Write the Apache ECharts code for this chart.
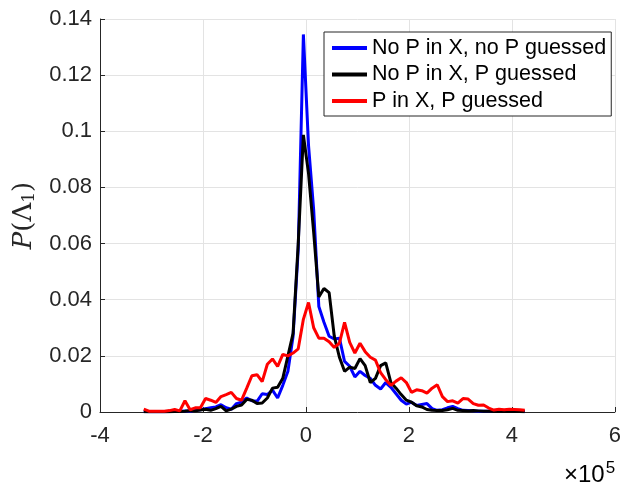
<!DOCTYPE html>
<html>
<head>
<meta charset="utf-8">
<script src="https://cdn.jsdelivr.net/npm/echarts@6/dist/echarts.min.js"></script>
<style>
  html, body { margin: 0; padding: 0; background: #fff; }
  #chart { width: 624px; height: 482px; }
</style>
</head>
<body>
<div id="chart"></div>
<script>
// bin centres (raw units, axis shows x / 1e5)
const xs = [
  -315000, -305000, -295000, -285000, -275000, -265000, -255000, -245000, -235000, -225000,
  -215000, -205000, -195000, -185000, -175000, -165000, -155000, -145000, -135000, -125000,
  -115000, -105000, -95000, -85000, -75000, -65000, -55000, -45000, -35000, -25000,
  -15000, -5000, 5000, 15000, 25000, 35000, 45000, 55000, 65000, 75000,
  85000, 95000, 105000, 115000, 125000, 135000, 145000, 155000, 165000, 175000,
  185000, 195000, 205000, 215000, 225000, 235000, 245000, 255000, 265000, 275000,
  285000, 295000, 305000, 315000, 325000, 335000, 345000, 355000, 365000, 375000,
  385000, 395000, 405000, 415000, 425000
];

const noPnoP = [
  0.0002, 0.0001, 0.0001, 0.0002, 0.0001, 0.0002, 0.0002, 0.0003, 0.0004, 0.0003,
  0.0006, 0.0008, 0.0012, 0.0015, 0.0018, 0.0026, 0.0015, 0.001, 0.003, 0.0035,
  0.005, 0.004, 0.0038, 0.0065, 0.0062, 0.0078, 0.005, 0.0095, 0.0145, 0.027,
  0.058, 0.1345, 0.095, 0.072, 0.0376, 0.032, 0.027, 0.026, 0.0263, 0.018,
  0.0163, 0.0125, 0.0145, 0.013, 0.012, 0.0095, 0.0082, 0.0105, 0.0088, 0.0065,
  0.0042, 0.0028, 0.0035, 0.0023, 0.0027, 0.003, 0.0012, 0.0006, 0.0008, 0.0015,
  0.002, 0.0012, 0.0006, 0.0005, 0.0004, 0.0003, 0.0003, 0.0003, 0.0002, 0.0002,
  0.0002, 0.0002, 0.0002, 0.0002, 0.0002
];

const noPwithP = [
  0.0001, 0.0001, 0.0001, 0.0001, 0.0002, 0.0001, 0.0002, 0.0002, 0.0003, 0.0005,
  0.0004, 0.0007, 0.001, 0.0006, 0.0012, 0.002, 0.0004, 0.001, 0.002, 0.0025,
  0.0045, 0.0042, 0.003, 0.0032, 0.005, 0.0085, 0.0088, 0.012, 0.02, 0.028,
  0.06, 0.0987, 0.085, 0.064, 0.041, 0.044, 0.0425, 0.027, 0.0195, 0.0145,
  0.016, 0.0155, 0.019, 0.0165, 0.0105, 0.012, 0.0165, 0.0175, 0.0105, 0.0085,
  0.0062, 0.0042, 0.0035, 0.0022, 0.0018, 0.0009, 0.0006, 0.0005, 0.0005, 0.0008,
  0.0013, 0.0006, 0.0005, 0.0004, 0.0005, 0.0004, 0.0003, 0.0003, 0.0002, 0.0003,
  0.0002, 0.0002, 0.0002, 0.0002, 0.0001
];

const pInX = [
  0.001, 0.0003, 0.0003, 0.0003, 0.0003, 0.0005, 0.0009, 0.0004, 0.004, 0.0008,
  0.0015, 0.0015, 0.0048, 0.0042, 0.0034, 0.0055, 0.0062, 0.007, 0.0048, 0.0042,
  0.0085, 0.0129, 0.0133, 0.0108, 0.017, 0.0189, 0.0162, 0.0205, 0.02, 0.021,
  0.0225, 0.033, 0.039, 0.03, 0.0263, 0.0263, 0.025, 0.023, 0.0245, 0.0319,
  0.0248, 0.021, 0.0245, 0.0215, 0.0195, 0.0185, 0.014, 0.0115, 0.0095, 0.011,
  0.0122, 0.0105, 0.007, 0.0079, 0.0076, 0.0067, 0.0085, 0.0097, 0.0055, 0.0037,
  0.004, 0.0032, 0.0048, 0.0046, 0.003, 0.0024, 0.0025, 0.0014, 0.0007, 0.001,
  0.0008, 0.001, 0.0009, 0.0008, 0.0006
];

const names = ["No P in X, no P guessed", "No P in X, P guessed", "P in X, P guessed"];
const colors = ["#0000ff", "#000000", "#ff0000"];

const pairs = (ys) => xs.map((x, i) => [x, ys[i]]);

const chart = echarts.init(document.getElementById("chart"));
const axisCol = "#262626";
const gridCol = "#e3e3e3";
const font = "'Liberation Sans', Arial, sans-serif";
const serif = "'DejaVu Serif', 'Liberation Serif', serif";

const option = {
  animation: false,
  color: colors,
  grid: { left: 100, right: 4, top: 19, bottom: 70, containLabel: false },
  legend: {
    orient: "vertical",
    left: 324,
    top: 32,
    padding: [5, 5, 4, 6],
    itemWidth: 35,
    itemHeight: 20,
    itemGap: 4.5,
    backgroundColor: "#fff",
    borderColor: axisCol,
    borderWidth: 1,
    borderRadius: 0,
    itemStyle: { opacity: 0 },
    lineStyle: { width: 4 },
    data: names,
    textStyle: { fontFamily: font, fontSize: 21.5, color: "#000" }
  },
  xAxis: {
    type: "value",
    min: -400000,
    max: 600000,
    interval: 200000,
    axisLine: { show: true, onZero: false, lineStyle: { color: axisCol, width: 1 } },
    axisTick: { show: true, inside: true, length: 5, lineStyle: { color: axisCol } },
    axisLabel: {
      margin: 13, fontFamily: font, fontSize: 22, color: axisCol,
      formatter: (v) => String(Math.round(v / 1e5))
    },
    splitLine: { show: true, lineStyle: { color: gridCol, width: 1 } }
  },
  yAxis: {
    type: "value",
    min: 0,
    max: 0.14,
    interval: 0.02,
    name: "{i|P}{n|(Λ}{s|1}{n|)}",
    nameLocation: "middle",
    nameGap: 61,
    nameRotate: 90,
    nameTextStyle: {
      rich: {
        i: { fontFamily: serif, fontStyle: "italic", fontSize: 26, color: axisCol },
        n: { fontFamily: serif, fontSize: 26, color: axisCol },
        s: { fontFamily: serif, fontSize: 17, color: axisCol, verticalAlign: "bottom", padding: [12, 0, 0, 0] }
      }
    },
    axisLine: { show: true, onZero: false, lineStyle: { color: axisCol, width: 1 } },
    axisTick: { show: true, inside: true, length: 5, lineStyle: { color: axisCol } },
    axisLabel: {
      margin: 8, fontFamily: font, fontSize: 22, color: axisCol,
      formatter: (v) => String(+v.toFixed(2))
    },
    splitLine: { show: true, lineStyle: { color: gridCol, width: 1 } }
  },
  graphic: [
    {
      type: "text",
      left: 564,
      top: 460,
      style: {
        text: "{a|×10}{b|5}",
        rich: {
          a: { fontFamily: font, fontSize: 24, color: axisCol },
          b: { fontFamily: font, fontSize: 17, color: axisCol, verticalAlign: "top", padding: [0, 0, 14, 1] }
        }
      }
    }
  ],
  series: [
    { name: names[0], type: "line", data: pairs(noPnoP), showSymbol: false, symbol: "none", lineStyle: { width: 3 } },
    { name: names[1], type: "line", data: pairs(noPwithP), showSymbol: false, symbol: "none", lineStyle: { width: 3 } },
    { name: names[2], type: "line", data: pairs(pInX), showSymbol: false, symbol: "none", lineStyle: { width: 3 } }
  ]
};

chart.setOption(option);
window.addEventListener("resize", () => chart.resize());
</script>
</body>
</html>
